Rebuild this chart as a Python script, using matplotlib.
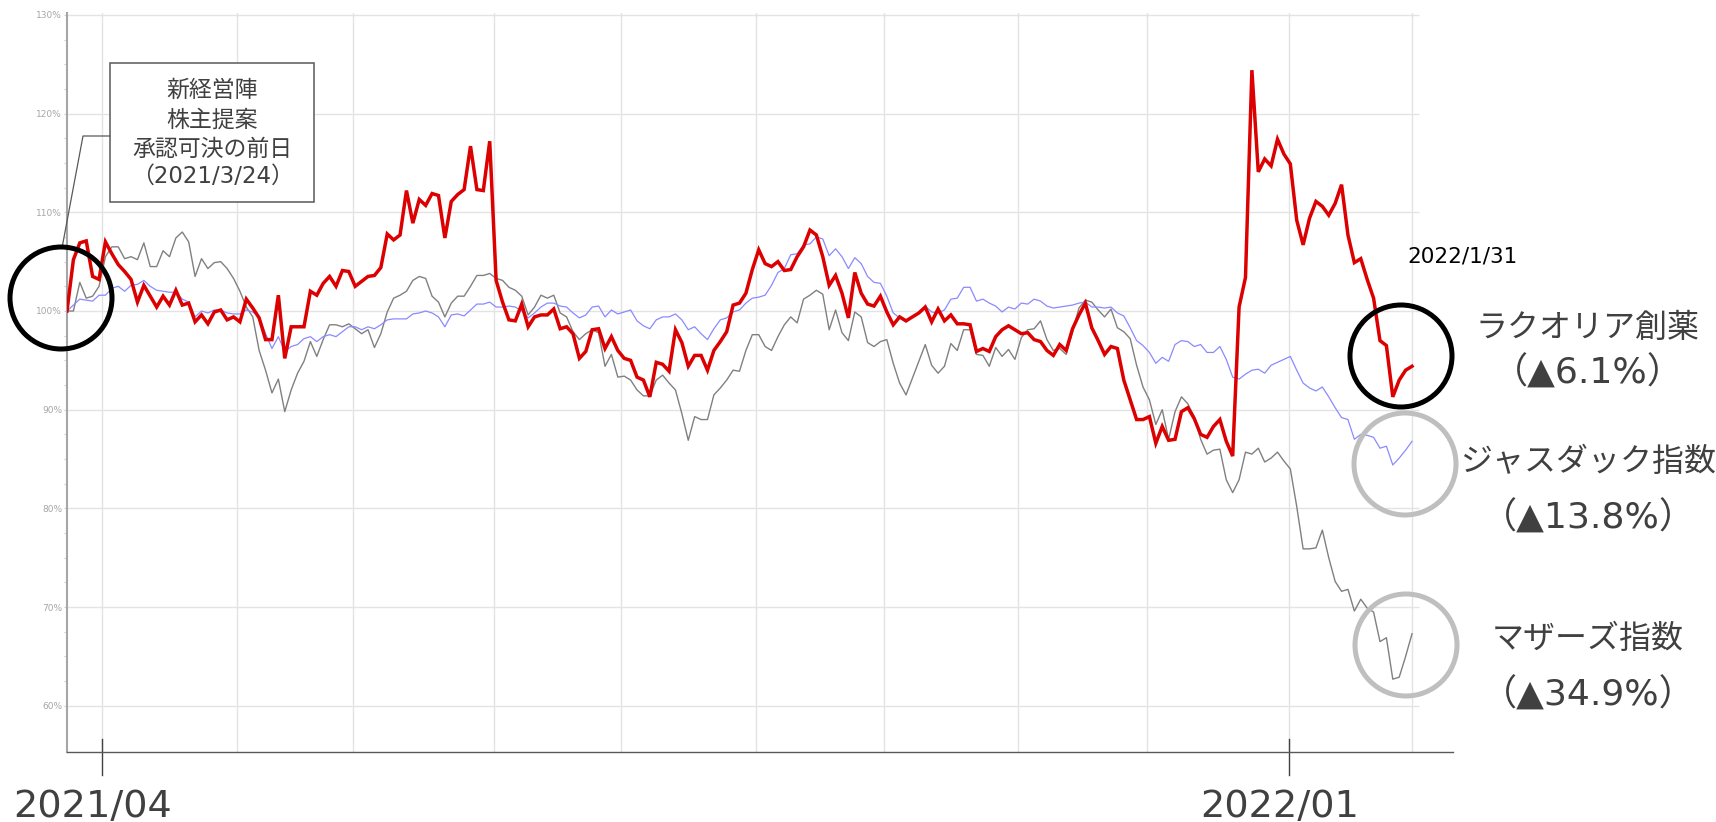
"""
ラクオリア創薬 vs ジャスダック / マザーズ指数 (2021/3/24 = 100%)
"""

import matplotlib

matplotlib.use("Agg")
import matplotlib.pyplot as plt
import numpy as np
from matplotlib.lines import Line2D
from matplotlib.patches import Ellipse, Rectangle

plt.rcParams["font.family"] = ["DejaVu Sans", "Noto Sans CJK JP"]

# daily close relative to 2021/3/24 (percent), one value per trading day up to 2022/1/31
raqualia = [
    100.0, 105.2, 106.9, 107.1, 103.5, 103.2, 107.0, 105.8, 104.7, 104.0,
    103.2, 100.9, 102.6, 101.5, 100.4, 101.5, 100.6, 102.1, 100.6, 100.8,
    98.9, 99.6, 98.7, 99.9, 100.1, 99.1, 99.4, 98.9, 101.2, 100.3,
    99.3, 97.1, 97.1, 101.6, 95.2, 98.4, 98.4, 98.4, 102.0, 101.6,
    102.8, 103.5, 102.5, 104.1, 104.0, 102.5, 103.0, 103.5, 103.6, 104.4,
    107.8, 107.2, 107.7, 112.2, 108.9, 111.3, 110.7, 111.9, 111.7, 107.4,
    111.1, 111.8, 112.3, 116.7, 112.3, 112.2, 117.2, 103.1, 100.9, 99.1,
    99.0, 100.7, 98.4, 99.4, 99.6, 99.6, 100.2, 98.2, 98.4, 97.7,
    95.2, 95.9, 98.1, 98.2, 96.2, 97.4, 96.0, 95.2, 95.0, 93.3,
    93.0, 91.3, 94.8, 94.6, 93.9, 98.1, 96.8, 94.4, 95.5, 95.5,
    94.0, 96.0, 96.9, 97.9, 100.6, 100.8, 101.8, 104.2, 106.2, 104.8,
    104.5, 105.0, 104.1, 104.2, 105.5, 106.5, 108.2, 107.7, 105.5, 102.6,
    103.6, 101.8, 99.3, 103.9, 101.8, 100.7, 100.5, 101.5, 99.9, 98.6,
    99.4, 99.0, 99.4, 99.8, 100.4, 98.9, 100.2, 99.0, 99.6, 98.7,
    98.7, 98.6, 95.9, 96.2, 95.9, 97.4, 98.1, 98.5, 98.1, 97.7,
    97.8, 97.1, 96.9, 96.0, 95.5, 96.6, 96.0, 98.2, 99.6, 100.8,
    98.3, 97.0, 95.6, 96.4, 96.2, 93.0, 91.0, 89.0, 89.0, 89.3,
    86.6, 88.3, 86.9, 87.0, 89.8, 90.2, 89.1, 87.5, 87.2, 88.3,
    89.0, 86.8, 85.3, 100.4, 103.4, 124.4, 114.1, 115.4, 114.7, 117.4,
    115.9, 114.9, 109.2, 106.7, 109.4, 111.1, 110.6, 109.7, 110.9, 112.8,
    107.7, 104.9, 105.3, 103.2, 101.3, 97.0, 96.5, 91.3, 93.0, 94.0,
    94.4,
]

mothers = [
    100.0, 100.0, 102.9, 101.3, 101.5, 102.5, 105.5, 106.5, 106.5, 105.3,
    105.5, 105.2, 106.9, 104.5, 104.5, 106.1, 105.5, 107.4, 108.0, 107.0,
    103.5, 105.3, 104.3, 104.9, 105.0, 104.3, 103.3, 102.0, 100.4, 99.4,
    96.0, 94.0, 91.7, 93.1, 89.8, 92.0, 93.7, 94.9, 96.9, 95.4,
    97.1, 98.6, 98.6, 98.4, 98.7, 98.2, 97.7, 98.1, 96.3, 97.7,
    99.9, 101.3, 101.6, 102.0, 103.1, 103.5, 103.3, 101.5, 100.9, 99.4,
    100.8, 101.5, 101.5, 102.5, 103.6, 103.6, 103.8, 103.3, 103.1, 102.4,
    102.1, 101.5, 99.6, 100.4, 101.6, 101.3, 101.6, 99.8, 99.4, 97.9,
    97.1, 97.7, 98.1, 97.8, 94.4, 95.6, 93.3, 93.4, 93.0, 92.0,
    91.4, 91.4, 93.0, 93.5, 92.7, 92.0, 89.6, 86.9, 89.3, 89.0,
    89.0, 91.5, 92.2, 93.0, 94.0, 93.9, 96.0, 97.6, 97.6, 96.4,
    96.0, 97.4, 98.6, 99.4, 98.8, 101.2, 101.6, 102.1, 101.7, 98.1,
    100.1, 97.8, 97.0, 99.9, 99.4, 96.8, 96.4, 96.9, 97.1, 94.7,
    92.7, 91.5, 93.2, 94.9, 96.6, 94.5, 93.7, 94.4, 96.7, 96.0,
    98.1, 98.1, 95.6, 95.5, 94.4, 96.3, 95.4, 96.1, 95.1, 97.3,
    98.1, 98.2, 99.0, 97.1, 96.0, 96.2, 95.6, 97.9, 100.3, 101.1,
    100.9, 100.1, 99.4, 100.2, 98.3, 97.9, 97.2, 94.5, 92.3, 91.0,
    88.5, 90.0, 87.0, 89.8, 91.3, 90.6, 89.3, 87.0, 85.5, 85.9,
    86.0, 82.9, 81.6, 82.9, 85.7, 85.5, 86.1, 84.7, 85.1, 85.7,
    84.8, 84.0, 80.2, 75.9, 75.9, 76.0, 77.8, 75.0, 72.6, 71.6,
    71.8, 69.6, 70.8, 69.9, 69.5, 66.5, 66.9, 62.7, 62.9, 65.0,
    67.3,
]

jasdaq = [
    100.0, 100.6, 101.2, 101.1, 101.0, 101.6, 101.6, 102.3, 102.5, 102.0,
    102.6, 102.7, 103.1, 102.5, 102.1, 102.0, 101.9, 101.9, 101.2, 100.9,
    99.4, 100.0, 99.8, 100.1, 100.1, 99.8, 99.7, 99.7, 100.1, 99.9,
    99.4, 97.7, 96.2, 97.4, 95.9, 96.4, 96.6, 97.2, 97.4, 96.9,
    97.4, 97.6, 97.4, 97.9, 98.4, 98.4, 98.1, 98.4, 98.2, 98.6,
    99.1, 99.2, 99.2, 99.2, 99.7, 99.8, 100.0, 99.8, 99.4, 98.4,
    99.6, 99.7, 99.5, 100.1, 100.7, 100.7, 100.9, 100.4, 100.4, 100.5,
    100.4, 100.0, 99.3, 99.8, 100.4, 100.8, 100.8, 100.5, 100.4, 99.8,
    99.3, 99.6, 100.4, 100.5, 99.4, 100.1, 99.7, 99.9, 100.1, 99.0,
    98.5, 98.2, 99.1, 99.4, 99.4, 99.7, 99.1, 98.1, 98.4, 97.7,
    97.1, 98.2, 99.1, 99.3, 99.9, 100.1, 100.8, 101.3, 101.4, 101.6,
    102.6, 103.9, 104.3, 105.7, 105.8, 106.7, 106.8, 107.5, 107.3, 105.6,
    106.3, 105.5, 104.3, 105.4, 104.8, 103.5, 102.9, 102.8, 101.5, 99.8,
    99.3, 98.9, 99.4, 99.9, 100.5, 99.9, 99.8, 100.1, 101.2, 101.3,
    102.4, 102.4, 101.0, 101.2, 100.8, 100.5, 99.9, 100.4, 100.2, 100.8,
    100.7, 101.2, 101.0, 100.5, 100.3, 100.4, 100.5, 100.6, 100.8, 100.9,
    100.4, 100.4, 100.3, 100.4, 99.8, 99.5, 98.3, 97.0, 96.5, 95.8,
    94.7, 95.3, 94.9, 96.6, 97.0, 96.9, 96.4, 96.6, 95.8, 95.8,
    96.4, 95.1, 93.3, 93.1, 93.6, 94.0, 94.1, 93.7, 94.5, 94.8,
    95.1, 95.4, 94.0, 92.7, 92.2, 91.9, 92.3, 91.3, 90.2, 89.2,
    89.0, 87.0, 87.5, 87.4, 87.2, 86.1, 86.3, 84.4, 85.1, 85.9,
    86.8,
]

# month boundaries on the trading-day axis (Apr 2021 .. Feb 2022)
month_edges = [5.5, 26.6, 44.7, 66.6, 86.5, 107.5, 127.6, 148.5, 168.7, 190.8, 210.0]
labelled_ticks = [5.5, 190.8]
tick_labels = ["2021/04", "2022/01"]

y_major = [60, 70, 80, 90, 100, 110, 120, 130]

names = ["ラクオリア創薬", "ジャスダック指数", "マザーズ指数"]
changes = ["（▲6.1%）", "（▲13.8%）", "（▲34.9%）"]
note_lines = ["新経営陣", "株主提案", "承認可決の前日", "（2021/3/24）"]
end_date = "2022/1/31"

W, H = 1716, 822
TXT = "#404040"


def fx(x):
    return x / W


def fy(y):
    return 1 - y / H


def main():
    fig = plt.figure(figsize=(W / 100, H / 100), dpi=100)
    ax = fig.add_axes([fx(67), fy(752), (1453 - 67) / W, (752 - 13) / H])

    x = np.arange(len(raqualia))
    ax.set_xlim(0, 216.4)
    ax.set_ylim(55.32, 130.19)

    # grid
    for v in y_major:
        ax.hlines(v, 0, 211.1, color="#e3e3e3", lw=1.0, zorder=0)
    for m in month_edges:
        ax.axvline(m, color="#e3e3e3", lw=1.0, zorder=0)

    ax.plot(x, mothers, color="#808080", lw=1.0, zorder=2)
    ax.plot(x, jasdaq, color="#8a8aff", lw=0.9, zorder=3)
    ax.plot(x, raqualia, color="#dc0000", lw=2.5, zorder=4, solid_joinstyle="miter")

    # axes styling
    for side in ("top", "right"):
        ax.spines[side].set_visible(False)
    ax.spines["left"].set_color("#a6a6a6")
    ax.spines["left"].set_linewidth(1.5)
    ax.spines["bottom"].set_color("#595959")
    ax.spines["bottom"].set_linewidth(1.0)

    ax.set_yticks(y_major)
    ax.set_yticklabels([f"{v}%" for v in y_major])
    minor = np.arange(62.5, 130, 2.5)
    ax.set_yticks(minor[minor % 10 != 0], minor=True)
    ax.tick_params(axis="y", which="major", length=2.5, width=0.8, color="#d0d0d0",
                   labelsize=6.5, labelcolor="#a6a6a6", pad=1)
    ax.tick_params(axis="y", which="minor", length=2.5, width=0.8, color="#d0d0d0")
    ax.set_xticks([])

    # labelled month ticks
    trans = ax.get_xaxis_transform()
    for pos, lab in zip(labelled_ticks, tick_labels):
        ax.plot([pos, pos], [13 / 739, -23 / 739], color="#404040", lw=1.0,
                transform=trans, clip_on=False)
        ax.annotate(lab, xy=(pos, 0), xycoords=trans, xytext=(-7, -47),
                    textcoords="offset points", ha="center", va="baseline",
                    fontsize=27.5, color=TXT)

    # annotation box for the start date
    fig.add_artist(Rectangle((fx(110), fy(202)), (314 - 110) / W, (202 - 63) / H,
                             transform=fig.transFigure, fc="white", ec="#595959", lw=1.1))
    for line, base in zip(note_lines, [97, 127, 156, 183]):
        fig.text(fx(212), fy(base), line, ha="center", va="baseline", fontsize=16.5, color=TXT)
    fig.add_artist(Line2D([fx(110), fx(83), fx(62)], [fy(136), fy(136), fy(248)],
                          transform=fig.transFigure, color="#595959", lw=0.9))

    # circles
    circles = [((61, 298), "black"), ((1401, 356), "black"),
               ((1405, 464), "#bfbfbf"), ((1406, 645), "#bfbfbf")]
    for (cx, cy), col in circles:
        fig.add_artist(Ellipse((fx(cx), fy(cy)), 102 / W, 102 / H, transform=fig.transFigure,
                               fill=False, ec=col, lw=3.6, zorder=5))

    # right-hand labels
    fig.text(fx(1407), fy(263), end_date, ha="left", va="baseline", fontsize=15.5, color="black")
    bases = [(337, 384), (471, 529), (648, 706)]
    for name, chg, (b1, b2) in zip(names, changes, bases):
        fig.text(fx(1588), fy(b1), name, ha="center", va="baseline", fontsize=23, color=TXT)
        fig.text(fx(1588), fy(b2), chg, ha="center", va="baseline", fontsize=26, color=TXT)

    fig.savefig("out.png", dpi=100)


if __name__ == "__main__":
    main()
